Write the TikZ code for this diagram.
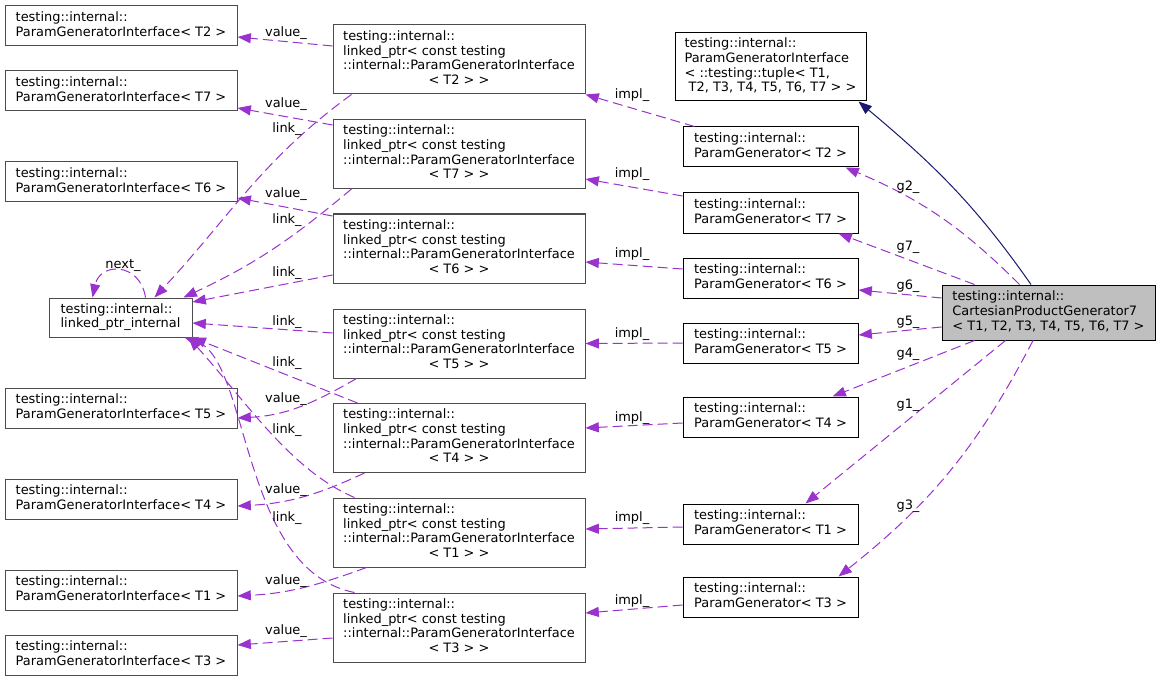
\documentclass[tikz,border=0pt]{standalone}
\usepackage{fontspec}
\setmainfont{DejaVu Sans}
\usetikzlibrary{arrows.meta}
\definecolor{dxpurple}{RGB}{154,50,205}
\definecolor{dxnavy}{RGB}{25,25,112}
\definecolor{dxgray}{RGB}{191,191,191}
\newcommand{\pgitext}[1]{\begin{tabular}{@{}l@{}}testing::internal::\\ParamGeneratorInterface< #1 >\end{tabular}}
\newcommand{\lptext}[1]{\begin{tabular}{@{}l@{}}testing::internal::\\linked\_ptr< const testing\\::internal::ParamGeneratorInterface\\\multicolumn{1}{@{}c@{}}{< #1 > >}\end{tabular}}
\newcommand{\pgtext}[1]{\begin{tabular}{@{}l@{}}testing::internal::\\ParamGenerator< #1 >\end{tabular}}
\tikzset{
    boxstyle/.style={rectangle, draw=black!70, fill=white, line width=0.75pt, inner sep=0pt, font=\fontsize{9.7}{11}\selectfont},
    ifacebox/.style={boxstyle, minimum width=174pt, minimum height=30pt},
    ptrbox/.style={boxstyle, minimum width=189pt, minimum height=51.75pt},
    internalbox/.style={boxstyle, minimum width=107.25pt, minimum height=29.25pt},
    genbox/.style={boxstyle, draw=black, minimum width=131.25pt, minimum height=30pt},
    tuplebox/.style={boxstyle, draw=black, minimum width=143.25pt, minimum height=51pt},
    mainbox/.style={boxstyle, draw=black, fill=dxgray, minimum width=159.75pt, minimum height=41.25pt},
    usage/.style={-{Triangle[length=10pt, width=7.5pt]}, draw=dxpurple, line width=0.75pt, dash pattern=on 7.5pt off 3.75pt},
    inherit/.style={-{Triangle[length=10pt, width=7.5pt]}, draw=dxnavy, line width=0.75pt},
    lbl/.style={font=\fontsize{9.7}{11}\selectfont, inner sep=0pt}
}

\begin{document}
\begin{tikzpicture}[x=0.75pt, y=0.75pt]
    \fill[white] (0,0) rectangle (1160,-681);
    \useasboundingbox (0,0) rectangle (1160,-681);
    % left column
    \node[ifacebox] (pgi2) at (121,-26) {\pgitext{T2}};
    \node[ifacebox] (pgi7) at (121,-91) {\pgitext{T7}};
    \node[ifacebox] (pgi6) at (121,-182) {\pgitext{T6}};
    \node[internalbox] (lpi) at (120.5,-317.5) {\begin{tabular}{@{}l@{}}testing::internal::\\linked\_ptr\_internal\end{tabular}};
    \node[ifacebox] (pgi5) at (121,-408) {\pgitext{T5}};
    \node[ifacebox] (pgi4) at (121,-499) {\pgitext{T4}};
    \node[ifacebox] (pgi1) at (121,-590) {\pgitext{T1}};
    \node[ifacebox] (pgi3) at (121,-655) {\pgitext{T3}};
    % middle column
    \node[ptrbox] (lp2) at (459,-59.5) {\lptext{T2}};
    \node[ptrbox] (lp7) at (459,-154) {\lptext{T7}};
    \node[ptrbox] (lp6) at (459,-248.5) {\lptext{T6}};
    \node[ptrbox] (lp5) at (459,-343.5) {\lptext{T5}};
    \node[ptrbox] (lp4) at (459,-438) {\lptext{T4}};
    \node[ptrbox] (lp1) at (459,-532.5) {\lptext{T1}};
    \node[ptrbox] (lp3) at (459,-627.5) {\lptext{T3}};
    % right column
    \node[tuplebox] (tuple) at (770.5,-67) {\begin{tabular}{@{}l@{}}testing::internal::\\ParamGeneratorInterface\\< ::testing::tuple< T1,\\\multicolumn{1}{@{}c@{}}{\ T2, T3, T4, T5, T6, T7 > >}\end{tabular}};
    \node[genbox] (pg2) at (770.5,-147) {\pgtext{T2}};
    \node[genbox] (pg7) at (770.5,-213) {\pgtext{T7}};
    \node[genbox] (pg6) at (770.5,-278) {\pgtext{T6}};
    \node[genbox] (pg5) at (770.5,-343) {\pgtext{T5}};
    \node[genbox] (pg4) at (770.5,-417) {\pgtext{T4}};
    \node[genbox] (pg1) at (770.5,-524) {\pgtext{T1}};
    \node[genbox] (pg3) at (770.5,-597) {\pgtext{T3}};
    \node[mainbox] (cp) at (1048.5,-312.5) {\begin{tabular}{@{}l@{}}testing::internal::\\CartesianProductGenerator7\\< T1, T2, T3, T4, T5, T6, T7 >\end{tabular}};
    % value_
    \draw[usage] ([shift={(0,13.5)}]lp2.west) -- ([shift={(0,-11)}]pgi2.east);
    \draw[usage] ([shift={(0,29)}]lp7.west) -- ([shift={(0,-17)}]pgi7.east);
    \draw[usage] ([shift={(0,32.5)}]lp6.west) -- ([shift={(0,-16)}]pgi6.east);
    \draw[usage] ([shift={(24,0)}]lp5.south west) to[out=210, in=3] ([shift={(0,-10)}]pgi5.east);
    \draw[usage] ([shift={(32,0)}]lp4.south west) to[out=205, in=3] ([shift={(0,-7)}]pgi4.east);
    \draw[usage] ([shift={(34,0)}]lp1.south west) to[out=200, in=3] ([shift={(0,-6)}]pgi1.east);
    \draw[usage] ([shift={(0,-10.5)}]lp3.west) -- ([shift={(0,10)}]pgi3.east);
    % link_
    \draw[usage] ([shift={(19,0)}]lp2.south west) to[out=216, in=47] ([shift={(34,0)}]lpi.north);
    \draw[usage] ([shift={(19,0)}]lp7.south west) to[out=220, in=25] ([shift={(-9,0)}]lpi.north east);
    \draw[usage] ([shift={(0,-26.5)}]lp6.west) -- ([shift={(0,15.5)}]lpi.east);
    \draw[usage] ([shift={(0,10.5)}]lp5.west) -- ([shift={(0,-5.5)}]lpi.east);
    \draw[usage] ([shift={(25,0)}]lp4.north west) -- (lpi.south east);
    \draw[usage] ([shift={(22,0)}]lp1.north west) .. controls (290,-470) and (245,-400) .. ([shift={(-4,0)}]lpi.south east);
    \draw[usage] ([shift={(22,0)}]lp3.north west) .. controls (240,-570) and (250,-360) .. ([shift={(-8,0)}]lpi.south east);
    \draw[usage] ([shift={(25,0)}]lpi.north) .. controls (140,-262) and (100,-262) .. ([shift={(-28,0)}]lpi.north);
    % impl_
    \draw[usage] ([shift={(12,0)}]pg2.north west) -- (lp2.south east);
    \draw[usage] ([shift={(0,17)}]pg7.west) -- ([shift={(0,-25)}]lp7.east);
    \draw[usage] ([shift={(0,9)}]pg6.west) -- ([shift={(0,-13.5)}]lp6.east);
    \draw[usage] (pg5.west) -- (lp5.east);
    \draw[usage] ([shift={(0,-6)}]pg4.west) -- ([shift={(0,10)}]lp4.east);
    \draw[usage] ([shift={(0,-3)}]pg1.west) -- ([shift={(0,3.5)}]lp1.east);
    \draw[usage] ([shift={(0,-8)}]pg3.west) -- ([shift={(0,14.5)}]lp3.east);
    % g*_
    \draw[usage] ([shift={(-29,0)}]cp.north) to[bend right=11] ([shift={(-13,0)}]pg2.south east);
    \draw[usage] ([shift={(33,0)}]cp.north west) -- ([shift={(-20,0)}]pg7.south east);
    \draw[usage] ([shift={(0,14.5)}]cp.west) -- ([shift={(0,-12)}]pg6.east);
    \draw[usage] ([shift={(0,-14.5)}]cp.west) -- ([shift={(0,8)}]pg5.east);
    \draw[usage] ([shift={(33,0)}]cp.south west) -- ([shift={(-26,0)}]pg4.north east);
    \draw[usage] ([shift={(-43,0)}]cp.south) -- ([shift={(35,0)}]pg1.north);
    \draw[usage] ([shift={(-15.5,0)}]cp.south) to[bend left=12] ([shift={(-20,0)}]pg3.north east);
    \draw[inherit] ([shift={(-17.5,0)}]cp.north) to[out=125, in=-40] ([shift={(-8,0)}]tuple.south east);
    % labels
    \node[lbl] (v2) at (286,-33) {value\_};
    \node[lbl] (v7) at (286,-104) {value\_};
    \node[lbl] (v6) at (286,-194) {value\_};
    \node[lbl] (v5) at (286,-399) {value\_};
    \node[lbl] (v4) at (286,-490) {value\_};
    \node[lbl] (v1) at (286,-581) {value\_};
    \node[lbl] (v3) at (286,-631) {value\_};
    \node[lbl] (k2) at (287,-129) {link\_};
    \node[lbl] (k7) at (287,-220) {link\_};
    \node[lbl] (k6) at (287,-273) {link\_};
    \node[lbl] (k5) at (287,-322) {link\_};
    \node[lbl] (k4) at (287,-363) {link\_};
    \node[lbl] (k1) at (287,-430) {link\_};
    \node[lbl] (k3) at (287,-518) {link\_};
    \node[lbl] (nx) at (123,-265) {next\_};
    \node[lbl] (i2) at (632,-95) {impl\_};
    \node[lbl] (i7) at (632,-174) {impl\_};
    \node[lbl] (i6) at (632,-254) {impl\_};
    \node[lbl] (i5) at (632,-334) {impl\_};
    \node[lbl] (i4) at (632,-418) {impl\_};
    \node[lbl] (i1) at (632,-518) {impl\_};
    \node[lbl] (i3) at (632,-601) {impl\_};
    \node[lbl] (g2) at (908,-187) {g2\_};
    \node[lbl] (g7) at (908,-247) {g7\_};
    \node[lbl] (g6) at (908,-286) {g6\_};
    \node[lbl] (g5) at (908,-322) {g5\_};
    \node[lbl] (g4) at (908,-354) {g4\_};
    \node[lbl] (g1) at (908,-405) {g1\_};
    \node[lbl] (g3) at (908,-506) {g3\_};
\end{tikzpicture}
\end{document}
